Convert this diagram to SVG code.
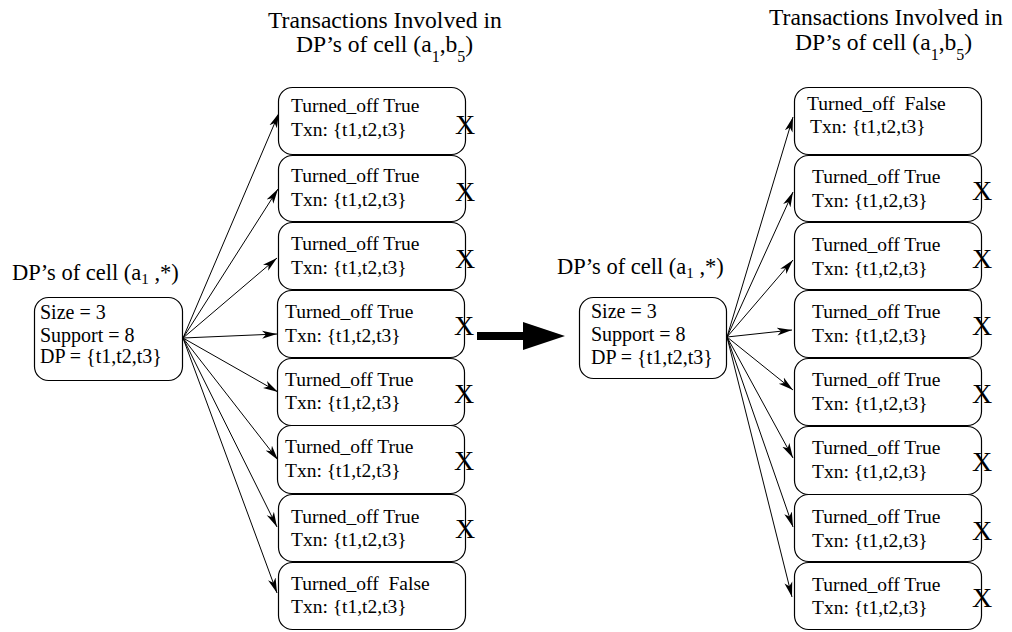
<svg xmlns="http://www.w3.org/2000/svg" width="1012" height="632" viewBox="0 0 1012 632">
<style>
text{font-family:"Liberation Serif","Times New Roman",serif;fill:#000}
.box{fill:#fff;stroke:#000;stroke-width:1.2}
.t{font-size:19.5px}
.s{font-size:20px}
.h{font-size:23.6px}
.d{font-size:22.5px}
.x{font-size:28px;text-anchor:middle}
.c{stroke:#000;stroke-width:1;fill:none;marker-end:url(#ah)}
</style>
<defs>
<marker id="ah" markerUnits="userSpaceOnUse" markerWidth="16" markerHeight="10" refX="15" refY="4" orient="auto" viewBox="0 0 16 8">
<path d="M0,0 L15,4 L0,8 L4,4 Z" fill="#000"/>
</marker>
</defs>
<rect width="1012" height="632" fill="#fff"/>

<g id="title-left">
<text class="h" x="268" y="28">Transactions Involved in</text>
<text class="h" x="296" y="52">DP’s of cell (a<tspan font-size="16" dy="10">1</tspan><tspan dy="-10">,b</tspan><tspan font-size="16" dy="10">5</tspan><tspan dy="-10">)</tspan></text>
</g>
<g id="title-right">
<text class="h" x="769" y="25">Transactions Involved in</text>
<text class="h" x="795" y="50">DP’s of cell (a<tspan font-size="16" dy="10">1</tspan><tspan dy="-10">,b</tspan><tspan font-size="16" dy="10">5</tspan><tspan dy="-10">)</tspan></text>
</g>

<g id="connectors">
<line class="c" x1="183" y1="338" x2="279" y2="113"/>
<line class="c" x1="183" y1="338" x2="278" y2="189"/>
<line class="c" x1="183" y1="338" x2="277" y2="258"/>
<line class="c" x1="183" y1="338" x2="277" y2="334"/>
<line class="c" x1="183" y1="338" x2="278" y2="392"/>
<line class="c" x1="183" y1="338" x2="278" y2="460"/>
<line class="c" x1="183" y1="338" x2="277" y2="527"/>
<line class="c" x1="183" y1="338" x2="277" y2="593"/>
<line class="c" x1="727" y1="337" x2="793" y2="117"/>
<line class="c" x1="727" y1="337" x2="793" y2="192"/>
<line class="c" x1="727" y1="337" x2="793" y2="260"/>
<line class="c" x1="727" y1="337" x2="792" y2="330"/>
<line class="c" x1="727" y1="337" x2="793" y2="390"/>
<line class="c" x1="727" y1="337" x2="793" y2="458"/>
<line class="c" x1="727" y1="337" x2="793" y2="527"/>
<line class="c" x1="727" y1="337" x2="792" y2="597"/>
<polygon points="477,332 523,332 523,322 565,336 523,350 523,340 477,340" fill="#000"/>
</g>

<g id="src-left">
<text class="d" x="12" y="280">DP’s of cell (a<tspan font-size="15" dy="4">1</tspan><tspan dy="-4"> ,*)</tspan></text>
<rect class="box" x="34.5" y="297.5" width="148" height="83" rx="14"/>
<text class="s" x="40" y="319">Size = 3</text>
<text class="s" x="40" y="342">Support = 8</text>
<text class="s" x="40" y="363">DP = {t1,t2,t3}</text>
</g>
<g id="src-right">
<text class="d" x="557" y="274">DP’s of cell (a<tspan font-size="15" dy="4">1</tspan><tspan dy="-4"> ,*)</tspan></text>
<rect class="box" x="579.5" y="297.5" width="147" height="81" rx="14"/>
<text class="s" x="591" y="318">Size = 3</text>
<text class="s" x="591" y="341">Support = 8</text>
<text class="s" x="591" y="364">DP = {t1,t2,t3}</text>
</g>

<g id="L1"><rect class="box" x="278.5" y="87.5" width="187" height="67" rx="14"/><text class="t" x="291" y="112">Turned_off True</text><text class="t" x="291" y="136">Txn: {t1,t2,t3}</text><text class="x" x="465" y="134">X</text></g>
<g id="L2"><rect class="box" x="278.5" y="155.5" width="187" height="66" rx="14"/><text class="t" x="291" y="182">Turned_off True</text><text class="t" x="291" y="206">Txn: {t1,t2,t3}</text><text class="x" x="465" y="201">X</text></g>
<g id="L3"><rect class="box" x="278.5" y="222.5" width="187" height="67" rx="14"/><text class="t" x="291" y="250">Turned_off True</text><text class="t" x="291" y="274">Txn: {t1,t2,t3}</text><text class="x" x="465" y="268">X</text></g>
<g id="L4"><rect class="box" x="277.5" y="290.5" width="187" height="67" rx="14"/><text class="t" x="285" y="318">Turned_off True</text><text class="t" x="285" y="342">Txn: {t1,t2,t3}</text><text class="x" x="464" y="335">X</text></g>
<g id="L5"><rect class="box" x="277.5" y="358.5" width="187" height="67" rx="14"/><text class="t" x="285" y="386">Turned_off True</text><text class="t" x="285" y="409">Txn: {t1,t2,t3}</text><text class="x" x="464" y="403">X</text></g>
<g id="L6"><rect class="box" x="277.5" y="425.5" width="187" height="68" rx="14"/><text class="t" x="285" y="453">Turned_off True</text><text class="t" x="285" y="477">Txn: {t1,t2,t3}</text><text class="x" x="464" y="470">X</text></g>
<g id="L7"><rect class="box" x="278.5" y="494.5" width="187" height="67" rx="14"/><text class="t" x="291" y="523">Turned_off True</text><text class="t" x="291" y="546">Txn: {t1,t2,t3}</text><text class="x" x="465" y="538">X</text></g>
<g id="L8"><rect class="box" x="278.5" y="562.5" width="187" height="67" rx="14"/><text class="t" x="291" y="590" xml:space="preserve">Turned_off  False</text><text class="t" x="291" y="613">Txn: {t1,t2,t3}</text></g>

<g id="R1"><rect class="box" x="794.5" y="87.5" width="187" height="67" rx="14"/><text class="t" x="807" y="110" xml:space="preserve">Turned_off  False</text><text class="t" x="810" y="133">Txn: {t1,t2,t3}</text></g>
<g id="R2"><rect class="box" x="794.5" y="155.5" width="187" height="66" rx="14"/><text class="t" x="812" y="183">Turned_off True</text><text class="t" x="812" y="207">Txn: {t1,t2,t3}</text><text class="x" x="982" y="200">X</text></g>
<g id="R3"><rect class="box" x="794.5" y="222.5" width="187" height="67" rx="14"/><text class="t" x="812" y="251">Turned_off True</text><text class="t" x="812" y="275">Txn: {t1,t2,t3}</text><text class="x" x="982" y="268">X</text></g>
<g id="R4"><rect class="box" x="794.5" y="290.5" width="187" height="67" rx="14"/><text class="t" x="812" y="318">Turned_off True</text><text class="t" x="812" y="342">Txn: {t1,t2,t3}</text><text class="x" x="982" y="335">X</text></g>
<g id="R5"><rect class="box" x="794.5" y="358.5" width="187" height="67" rx="14"/><text class="t" x="812" y="386">Turned_off True</text><text class="t" x="812" y="410">Txn: {t1,t2,t3}</text><text class="x" x="982" y="403">X</text></g>
<g id="R6"><rect class="box" x="794.5" y="426.5" width="187" height="68" rx="14"/><text class="t" x="812" y="454">Turned_off True</text><text class="t" x="812" y="478">Txn: {t1,t2,t3}</text><text class="x" x="982" y="471">X</text></g>
<g id="R7"><rect class="box" x="794.5" y="494.5" width="187" height="67" rx="14"/><text class="t" x="812" y="523">Turned_off True</text><text class="t" x="812" y="547">Txn: {t1,t2,t3}</text><text class="x" x="982" y="540">X</text></g>
<g id="R8"><rect class="box" x="794.5" y="562.5" width="187" height="67" rx="14"/><text class="t" x="812" y="591">Turned_off True</text><text class="t" x="812" y="614">Txn: {t1,t2,t3}</text><text class="x" x="982" y="607">X</text></g>
</svg>
